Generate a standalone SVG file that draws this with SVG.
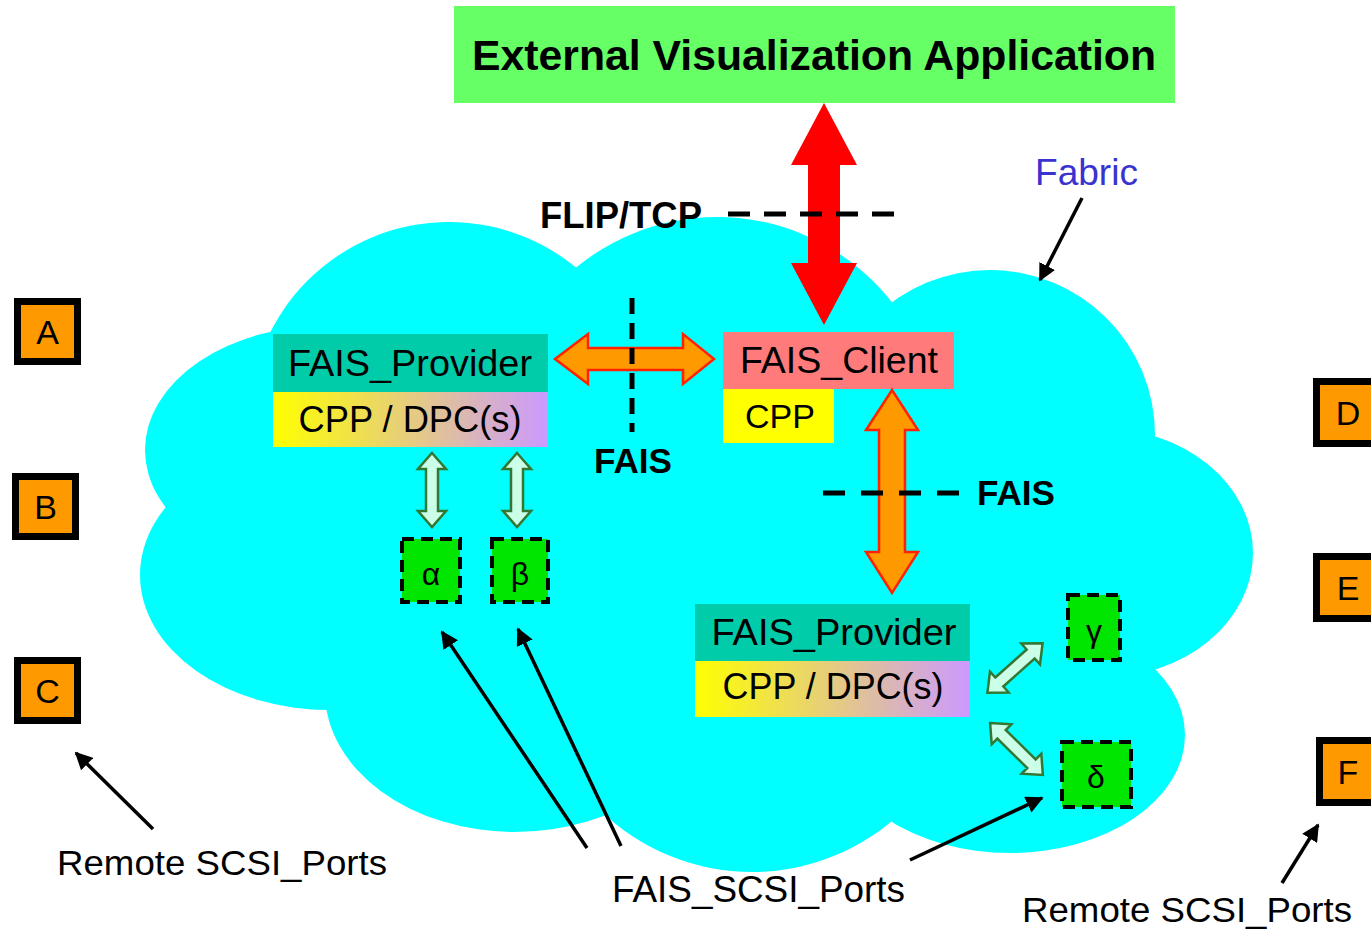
<svg xmlns="http://www.w3.org/2000/svg" width="1371" height="931" viewBox="0 0 1371 931">
  <defs>
    <style>
      text { font-family: "Liberation Sans", Arial, sans-serif; fill: #000; }
      .cloud { fill: #00FFFF; stroke: none; }
      .teal { fill: #00CCAA; }
      .grad { fill: url(#yp); }
      .t37 { font-size: 37px; }
      .t36 { font-size: 36px; }
      .mid { text-anchor: middle; }
      .port { fill: #00E600; stroke: #000; stroke-width: 4; stroke-dasharray: 12 7; }
      .remote { fill: #FF9900; stroke: #000; stroke-width: 7; }
      .letter { font-size: 34px; text-anchor: middle; }
      .orange { fill: #FF9900; stroke: #FF2200; stroke-width: 2.5; stroke-linejoin: miter; }
      .light { fill: #CCFFE8; stroke: #337733; stroke-width: 2.5; }
      .dash { stroke: #000; stroke-width: 5; fill: none; }
      .ptr { stroke: #000; stroke-width: 3.5; fill: none; marker-end: url(#ah); }
    </style>
    <linearGradient id="yp" x1="0" y1="0" x2="1" y2="0">
      <stop offset="0" stop-color="#FFFF00"/>
      <stop offset="1" stop-color="#CC99FF"/>
    </linearGradient>
    <marker id="ah" viewBox="0 0 10 10" refX="9" refY="5" markerWidth="5" markerHeight="5" orient="auto" markerUnits="strokeWidth">
      <path d="M0,0 L10,5 L0,10 Z" fill="#000"/>
    </marker>
    <path id="lightArrow" d="M0,-37 L14,-21 L6,-21 L6,21 L14,21 L0,37 L-14,21 L-6,21 L-6,-21 L-14,-21 Z"/>
  </defs>

  <rect x="0" y="0" width="1371" height="931" fill="#FFFFFF"/>

  <!-- Fabric cloud -->
  <g id="fabric-cloud">
    <circle class="cloud" cx="449" cy="422" r="200"/>
    <circle class="cloud" cx="717" cy="439" r="222"/>
    <circle class="cloud" cx="990" cy="435" r="165"/>
    <ellipse class="cloud" cx="1100" cy="553" rx="153" ry="125"/>
    <ellipse class="cloud" cx="1010" cy="735" rx="175" ry="118"/>
    <ellipse class="cloud" cx="752" cy="660" rx="215" ry="212"/>
    <ellipse class="cloud" cx="515" cy="692" rx="190" ry="140"/>
    <ellipse class="cloud" cx="330" cy="575" rx="190" ry="135"/>
    <ellipse class="cloud" cx="330" cy="450" rx="185" ry="125"/>
    <polygon class="cloud" points="300,420 600,320 880,330 1120,450 1150,680 950,800 600,790 360,690 220,560"/>
  </g>

  <!-- External application -->
  <g id="external-app">
    <rect x="454" y="6" width="721" height="97" fill="#66FF66"/>
    <text x="814" y="70" class="mid" font-size="42" font-weight="bold" textLength="684" lengthAdjust="spacingAndGlyphs">External Visualization Application</text>
  </g>

  <!-- Labels -->
  <g id="labels">
    <text x="540" y="228" font-size="36" font-weight="bold" textLength="162" lengthAdjust="spacingAndGlyphs">FLIP/TCP</text>
    <text x="1035" y="185" font-size="37" style="fill:#3A33D0" textLength="103" lengthAdjust="spacingAndGlyphs">Fabric</text>
    <text x="633" y="473" class="mid" font-size="35" font-weight="bold" textLength="78" lengthAdjust="spacingAndGlyphs">FAIS</text>
    <text x="977" y="505" font-size="35" font-weight="bold" textLength="78" lengthAdjust="spacingAndGlyphs">FAIS</text>
    <text x="57" y="875" font-size="35" textLength="330" lengthAdjust="spacingAndGlyphs">Remote SCSI_Ports</text>
    <text x="1022" y="922" font-size="35" textLength="330" lengthAdjust="spacingAndGlyphs">Remote SCSI_Ports</text>
    <text x="612" y="902" font-size="36" textLength="293" lengthAdjust="spacingAndGlyphs">FAIS_SCSI_Ports</text>
  </g>

  <!-- Nodes -->
  <g id="fais-provider-left">
    <rect class="teal" x="273" y="334" width="275" height="58"/>
    <rect class="grad" x="273" y="392" width="275" height="55"/>
    <text x="410" y="376" class="t37 mid" textLength="244" lengthAdjust="spacingAndGlyphs">FAIS_Provider</text>
    <text x="410" y="432" class="t36 mid" textLength="223" lengthAdjust="spacingAndGlyphs">CPP / DPC(s)</text>
  </g>

  <g id="fais-client">
    <rect x="723" y="332" width="231" height="57" fill="#FF7A7A"/>
    <rect x="723" y="389" width="111" height="54" fill="#FFFF00"/>
    <text x="839" y="373" class="t37 mid" textLength="198" lengthAdjust="spacingAndGlyphs">FAIS_Client</text>
    <text x="780" y="428" font-size="34" class="mid">CPP</text>
  </g>

  <g id="fais-provider-right">
    <rect class="teal" x="695" y="604" width="275" height="57"/>
    <rect class="grad" x="695" y="661" width="275" height="56"/>
    <text x="834" y="645" class="t37 mid" textLength="245" lengthAdjust="spacingAndGlyphs">FAIS_Provider</text>
    <text x="833" y="699" class="t36 mid" textLength="221" lengthAdjust="spacingAndGlyphs">CPP / DPC(s)</text>
  </g>

  <g id="port-alpha">
    <rect class="port" x="402" y="539" width="58" height="63"/>
    <text x="431" y="585" font-size="32" class="mid">α</text>
  </g>
  <g id="port-beta">
    <rect class="port" x="492" y="539" width="56" height="63"/>
    <text x="520" y="585" font-size="32" class="mid">β</text>
  </g>
  <g id="port-gamma">
    <rect class="port" x="1068" y="595" width="52" height="65"/>
    <text x="1094" y="642" font-size="32" class="mid">γ</text>
  </g>
  <g id="port-delta">
    <rect class="port" x="1062" y="742" width="69" height="65"/>
    <text x="1096" y="788" font-size="32" class="mid">δ</text>
  </g>

  <g id="remote-A">
    <rect class="remote" x="17.5" y="301.5" width="60" height="60"/>
    <text x="47.5" y="344" class="letter">A</text>
  </g>
  <g id="remote-B">
    <rect class="remote" x="15.5" y="476.5" width="60" height="60"/>
    <text x="45.5" y="519" class="letter">B</text>
  </g>
  <g id="remote-C">
    <rect class="remote" x="17.5" y="660.5" width="60" height="60"/>
    <text x="47.5" y="703" class="letter">C</text>
  </g>
  <g id="remote-D">
    <rect class="remote" x="1316.5" y="381.5" width="62" height="62"/>
    <text x="1348" y="425" class="letter">D</text>
  </g>
  <g id="remote-E">
    <rect class="remote" x="1316.5" y="556.5" width="62" height="62"/>
    <text x="1348" y="600" class="letter">E</text>
  </g>
  <g id="remote-F">
    <rect class="remote" x="1319.5" y="740.5" width="62" height="62"/>
    <text x="1348" y="784" class="letter">F</text>
  </g>

  <!-- Connectors -->
  <g id="connectors">
    <path fill="#FF0000" d="M824,103 L857,165 L840,165 L840,263 L857,263 L824,325 L791,263 L808,263 L808,165 L791,165 Z"/>
    <line class="dash" x1="728" y1="214" x2="898" y2="214" stroke-dasharray="22 14"/>
    <path class="orange" d="M555,359 L588,334 L588,348 L683,348 L683,334 L714,359 L683,384 L683,370 L588,370 L588,384 Z"/>
    <line class="dash" x1="632" y1="298" x2="632" y2="432" stroke-dasharray="16 9"/>
    <path class="orange" d="M892,390 L918,430 L905,430 L905,552 L918,552 L892,593 L866,552 L879,552 L879,430 L866,430 Z"/>
    <line class="dash" x1="823" y1="493" x2="960" y2="493" stroke-dasharray="22 16"/>
    <use href="#lightArrow" class="light" transform="translate(432,490)"/>
    <use href="#lightArrow" class="light" transform="translate(517,490)"/>
    <use href="#lightArrow" class="light" transform="translate(1015,668) rotate(48.2)"/>
    <use href="#lightArrow" class="light" transform="translate(1016.5,749) rotate(-45.5)"/>
    <line class="ptr" x1="1082" y1="198" x2="1040" y2="280"/>
    <line class="ptr" x1="153" y1="829" x2="76" y2="753"/>
    <line class="ptr" x1="587" y1="848" x2="442" y2="632"/>
    <line class="ptr" x1="621" y1="846" x2="518" y2="629"/>
    <line class="ptr" x1="910" y1="860" x2="1042" y2="798"/>
    <line class="ptr" x1="1282" y1="883" x2="1318" y2="825"/>
  </g>
</svg>
